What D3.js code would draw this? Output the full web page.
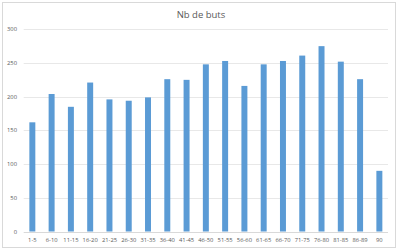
<!DOCTYPE html>
<html>
<head>
<meta charset="utf-8">
<script src="https://cdn.jsdelivr.net/npm/d3@7"></script>
<style>
  body { margin: 0; background: #fff; }
  text { font-family: "Open Sans", "Liberation Sans", sans-serif; }
</style>
</head>
<body>
<svg id="chart" width="400" height="251"></svg>
<script>
'use strict';

// goals per 5-minute slice
const categories = ["1-5", "6-10", "11-15", "16-20", "21-25", "26-30", "31-35", "36-40", "41-45",
    "46-50", "51-55", "56-60", "61-65", "66-70", "71-75", "76-80", "81-85", "86-89", "90"];
const goals = [162, 204, 185, 221, 196, 194, 199, 226, 225, 248, 253, 216, 248, 253, 261, 275, 252, 226, 90];
const yTicks = [0, 50, 100, 150, 200, 250, 300];
const title = "Nb de buts";

const svg = d3.select("#chart");
const margin = { top: 29.3, right: 11, bottom: 19.5, left: 22.7 };
const width = 400, height = 251;

// chart frame
svg.append("rect")
    .attr("x", 2.5).attr("y", 2.5)
    .attr("width", 393).attr("height", 245)
    .attr("fill", "#fff")
    .attr("stroke", "#d9d9d9")
    .attr("stroke-width", 1);

const x = d3.scaleBand()
    .domain(categories)
    .range([margin.left, width - margin.right])
    .paddingInner(0.69)
    .paddingOuter(0.345);

const y = d3.scaleLinear()
    .domain([0, 300])
    .range([height - margin.bottom, margin.top]);

// gridlines
svg.append("g")
    .selectAll("line")
    .data(yTicks)
    .enter().append("line")
    .attr("x1", margin.left + 1)
    .attr("x2", width - margin.right - 1)
    .attr("y1", d => Math.round(y(d)) + 0.5)
    .attr("y2", d => Math.round(y(d)) + 0.5)
    .attr("stroke", d => d === 0 ? "#d9d9d9" : "#e8e8e8")
    .attr("stroke-width", 1);

// y labels
svg.append("g")
    .selectAll("text")
    .data(yTicks)
    .enter().append("text")
    .attr("x", 17)
    .attr("y", d => y(d))
    .attr("dy", "0.35em")
    .attr("text-anchor", "end")
    .attr("font-size", 5.8)
    .attr("fill", "#595959")
    .text(d => d);

// bars
svg.append("g")
    .selectAll("rect")
    .data(goals)
    .enter().append("rect")
    .attr("x", (d, i) => x(categories[i]))
    .attr("width", x.bandwidth())
    .attr("y", d => y(d))
    .attr("height", d => y(0) - y(d))
    .attr("fill", "#5b9bd5");

// x labels
svg.append("g")
    .selectAll("text")
    .data(categories)
    .enter().append("text")
    .attr("x", d => x(d) + x.bandwidth() / 2)
    .attr("y", 239.5)
    .attr("dy", "0.35em")
    .attr("text-anchor", "middle")
    .attr("font-size", 5.8)
    .attr("fill", "#595959")
    .text(d => d);

svg.append("text")
    .attr("x", 201)
    .attr("y", 14.5)
    .attr("dy", "0.35em")
    .attr("text-anchor", "middle")
    .attr("font-size", 9.5)
    .attr("fill", "#595959")
    .text(title);
</script>
</body>
</html>
